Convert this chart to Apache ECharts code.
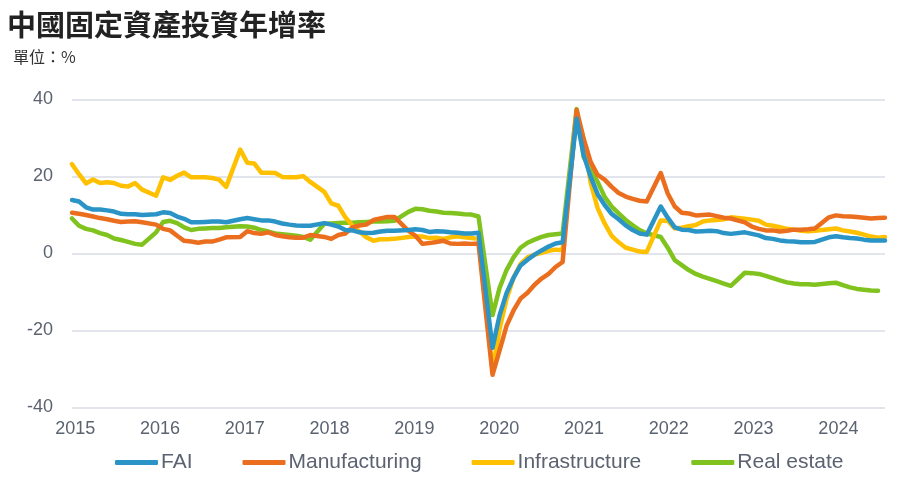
<!DOCTYPE html>
<html><head><meta charset="utf-8">
<script src="https://cdn.jsdelivr.net/npm/echarts@6/dist/echarts.min.js"></script>
<style>html,body{margin:0;padding:0;background:#fff}#c{width:911px;height:478px}</style>
</head><body><div id="c"></div>
<script>
// Years shown on the axis; data are year-to-date growth, Feb..Dec each year (no January release)
const years = [2015, 2016, 2017, 2018, 2019, 2020, 2021, 2022, 2023, 2024];
const monthsReleased = [2, 3, 4, 5, 6, 7, 8, 9, 10, 11, 12];
const lastMonth2024 = 10;

const seriesNames = ['FAI', 'Manufacturing', 'Infrastructure', 'Real estate'];

const fai = [
  13.9, 13.5, 12.0, 11.4, 11.4, 11.2, 10.9, 10.3, 10.2, 10.2, 10.0,
  10.2, 10.7, 10.5, 9.6, 9.0, 8.1, 8.1, 8.2, 8.3, 8.3, 8.1,
  8.9, 9.2, 8.9, 8.6, 8.6, 8.3, 7.8, 7.5, 7.3, 7.2, 7.2,
  7.9, 7.5, 7.0, 6.1, 6.0, 5.5, 5.3, 5.4, 5.7, 5.9, 5.9,
  6.1, 6.3, 6.1, 5.6, 5.8, 5.7, 5.5, 5.4, 5.2, 5.2, 5.4,
  -24.5, -16.1, -10.3, -6.3, -3.1, -1.6, -0.3, 0.8, 1.8, 2.6, 2.9,
  35.0, 25.6, 19.9, 15.4, 12.6, 10.3, 8.9, 7.3, 6.1, 5.2, 4.9,
  12.2, 9.3, 6.8, 6.2, 6.1, 5.7, 5.8, 5.9, 5.8, 5.3, 5.1,
  5.5, 5.1, 4.7, 4.0, 3.8, 3.4, 3.2, 3.1, 2.9, 2.9, 3.0,
  4.2, 4.5, 4.2, 4.0, 3.9, 3.6, 3.4, 3.4, 3.4
];
const manufacturing = [
  10.6, 10.3, 10.0, 9.6, 9.2, 8.9, 8.5, 8.2, 8.3, 8.4, 8.1,
  7.5, 6.4, 6.0, 4.6, 3.3, 3.1, 2.8, 3.1, 3.1, 3.6, 4.2,
  4.3, 5.8, 5.3, 5.1, 5.5, 4.8, 4.5, 4.2, 4.1, 4.1, 4.8,
  4.3, 3.8, 4.8, 5.2, 6.8, 7.3, 7.5, 8.7, 9.1, 9.5, 9.5,
  5.9, 4.6, 2.5, 2.7, 3.0, 3.3, 2.6, 2.5, 2.6, 2.5, 2.6,
  -31.5, -25.2, -18.8, -14.8, -11.7, -10.2, -8.1, -6.5, -5.3, -3.5, -2.2,
  37.3, 29.8, 23.8, 20.4, 19.2, 17.3, 15.7, 14.8, 14.2, 13.7, 13.5,
  20.9, 15.6, 12.2, 10.6, 10.4, 9.9, 10.0, 10.1, 9.7, 9.3, 9.1,
  8.1, 7.0, 6.4, 6.0, 6.0, 5.7, 5.9, 6.2, 6.2, 6.3, 6.5,
  9.4, 9.9, 9.7, 9.6, 9.5, 9.3, 9.1, 9.2, 9.3
];
const infrastructure = [
  23.2, 20.6, 18.2, 19.2, 18.3, 18.5, 18.3, 17.6, 17.4, 18.3, 16.6,
  15.0, 19.8, 19.1, 20.2, 21.0, 19.8, 19.8, 19.8, 19.6, 19.2, 17.3,
  27.0, 23.6, 23.4, 21.0, 21.0, 20.9, 19.9, 19.8, 19.8, 20.1, 18.6,
  16.0, 13.0, 12.4, 9.4, 7.3, 5.7, 4.2, 3.3, 3.7, 3.7, 3.8,
  4.3, 4.4, 4.4, 4.0, 4.1, 3.8, 4.2, 4.5, 4.2, 4.0, 3.8,
  -30.3, -19.7, -11.8, -6.3, -2.7, -1.0, -0.3, 0.2, 0.7, 1.0, 0.9,
  36.6, 29.7, 18.4, 11.8, 7.8, 4.6, 2.9, 1.5, 1.0, 0.5, 0.4,
  8.6, 8.5, 6.5, 6.7, 7.1, 7.4, 8.3, 8.6, 8.7, 8.9, 9.4,
  9.0, 8.8, 8.5, 7.5, 7.2, 6.8, 6.4, 6.2, 5.9, 5.8, 5.9,
  6.3, 6.5, 6.0, 5.7, 5.4, 4.9, 4.4, 4.1, 4.3
];
const realEstate = [
  9.1, 7.2, 6.4, 6.0, 5.3, 4.8, 3.9, 3.5, 3.0, 2.5, 2.3,
  5.5, 8.2, 8.5, 7.9, 6.8, 6.1, 6.4, 6.5, 6.6, 6.6, 6.8,
  7.1, 7.0, 6.7, 6.1, 5.7, 5.2, 5.0, 4.8, 4.6, 4.3, 3.6,
  7.7, 7.8, 7.9, 8.0, 8.0, 8.1, 8.2, 8.3, 8.3, 8.4, 8.5,
  10.8, 11.6, 11.5, 11.1, 10.9, 10.6, 10.5, 10.4, 10.2, 10.1, 9.6,
  -16.0, -9.0, -4.3, -1.0, 1.5, 2.8, 3.6, 4.3, 4.8, 5.0, 5.2,
  37.5, 25.1, 21.7, 18.6, 14.7, 12.2, 10.4, 8.7, 7.3, 6.1, 5.2,
  4.3, 1.5, -1.7, -3.0, -4.3, -5.3, -6.0, -6.6, -7.2, -7.8, -8.4,
  -5.0, -5.1, -5.3, -5.8, -6.4, -7.0, -7.5, -7.8, -8.0, -8.0, -8.1,
  -7.7, -7.6, -8.2, -8.8, -9.2, -9.4, -9.6, -9.7
];

const yTicks = [-40, -20, 0, 20, 40];

// month periods released (year, month)
const periods = [];
years.forEach(y => monthsReleased.forEach(m => {
  if (y < years[years.length - 1] || m <= lastMonth2024) periods.push([y, m]);
}));
// months elapsed since the first period
const monthIndex = p => (p[0] - years[0]) * 12 + (p[1] - periods[0][1]);
const toData = vals => vals.map((v, i) => [monthIndex(periods[i]), v]);

const colors = ['#2a94c7', '#eb6e1f', '#ffc000', '#80c31f'];
const allValues = [fai, manufacturing, infrastructure, realEstate];

const yearLabelPos = years.map((y, i) => i * 12.1 + 0.45);

const chart = echarts.init(document.getElementById('c'), null, { renderer: 'canvas' });
chart.setOption({
  animation: false,
  backgroundColor: '#ffffff',
  title: [
    { text: '中國固定資產投資年增率', left: 2, top: 5,
      textStyle: { fontFamily: 'Noto Sans CJK TC', fontSize: 29, fontWeight: 'bold', color: '#222222' } },
    { text: '單位：%', left: 8, top: 44,
      textStyle: { fontFamily: 'Noto Sans CJK TC', fontSize: 16, fontWeight: 'normal', color: '#333333' } }
  ],
  grid: { left: 72, right: 26, top: 99.5, bottom: 70.5, containLabel: false },
  legend: {
    data: seriesNames,
    left: 110, top: 447,
    icon: 'roundRect', itemWidth: 43, itemHeight: 5, itemGap: 50,
    textStyle: { fontFamily: 'Liberation Sans', fontSize: 21, color: '#5b6270', padding: [0, 0, 0, -2] }
  },
  xAxis: {
    type: 'value', min: 0, max: 116,
    axisLine: { show: false }, axisTick: { show: false }, splitLine: { show: false },
    axisLabel: {
      customValues: yearLabelPos,
      formatter: v => String(years[Math.round((v - 0.45) / 12.1)]),
      fontFamily: 'Liberation Sans', fontSize: 18, color: '#5b6270', margin: 13
    }
  },
  yAxis: {
    type: 'value', min: yTicks[0], max: yTicks[yTicks.length - 1], interval: 20,
    axisLine: { show: false }, axisTick: { show: false },
    splitLine: { lineStyle: { color: '#d9dce4', width: 1.5 } },
    axisLabel: { fontFamily: 'Liberation Sans', fontSize: 18, color: '#5b6270', margin: 19 }
  },
  series: seriesNames.map((n, i) => ({
    name: n, type: 'line', data: toData(allValues[i]),
    showSymbol: false, symbol: 'none',
    lineStyle: { color: colors[i], width: 4.5, cap: 'round', join: 'round' },
    itemStyle: { color: colors[i] },
    z: 10 - i
  }))
});
</script></body></html>
